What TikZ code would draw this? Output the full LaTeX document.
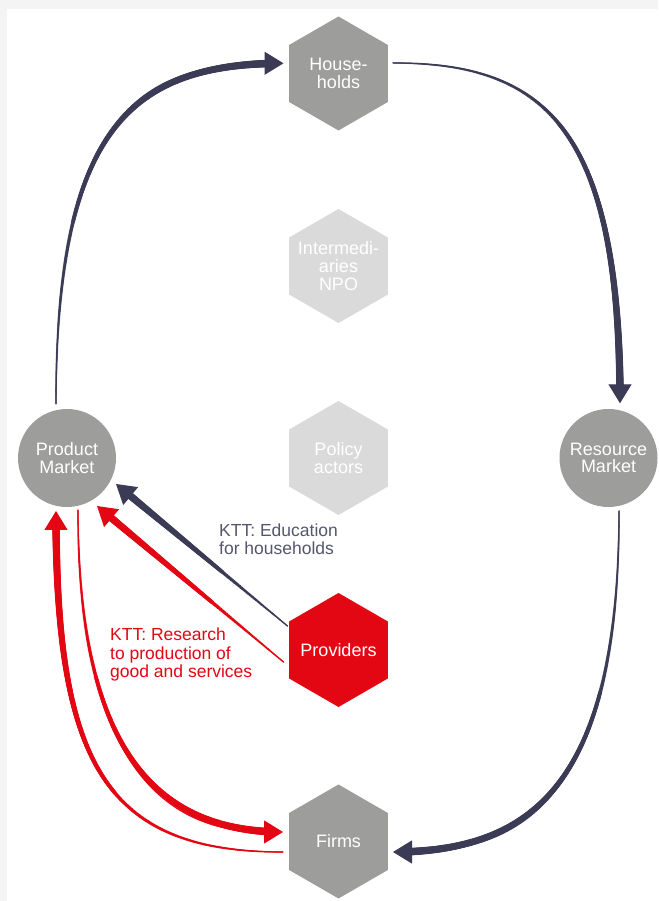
\documentclass[tikz,border=0pt]{standalone}
\usepackage{fontspec}
\setmainfont{Liberation Sans}
\usetikzlibrary{shapes.geometric,arrows.meta,decorations.markings}

\definecolor{navy}{HTML}{3C3B55}
\definecolor{ktred}{HTML}{E30613}
\definecolor{hexgray}{HTML}{9D9D9C}
\definecolor{hexlight}{HTML}{DADADA}
\definecolor{labelnavy}{HTML}{56566E}
\definecolor{bggray}{HTML}{F4F4F4}

\tikzset{
  hexa/.style={regular polygon, regular polygon sides=6, shape border rotate=30,
    minimum size=114pt, inner sep=0pt, outer sep=0pt},
  hextext/.style={text=white, align=center, inner sep=0pt,
    font=\fontsize{18}{18}\selectfont},
  market/.style={circle, fill=hexgray, minimum size=98pt, inner sep=0pt,
    text=white, align=center, font=\fontsize{18}{17.5}\selectfont},
  ktt/.style={anchor=north west, inner sep=0pt, align=left,
    font=\fontsize{17.5}{18.3}\selectfont},
  flow/.style={line width=1.2pt, -{Triangle[length=19pt,width=23pt]},
    postaction={decorate, decoration={markings,
      mark=between positions 0 and -18pt step 1pt with {
        \pgfmathsetmacro\taper{0.75+3.25*\pgfkeysvalueof{/pgf/decoration/mark info/distance from start}/\pgfdecoratedpathlength}
        \fill (0,0) circle (\taper pt);}}}}
}

\begin{document}
\begin{tikzpicture}[x=1pt,y=1pt]
        % page and panel
        \fill[bggray] (0,0) rectangle (658,901);
        \fill[white] (7,0) rectangle (658,892);
        \useasboundingbox (0,0) rectangle (658,901);

        % the actors in the middle column
        \node[hexa, fill=hexgray,  label={[hextext]center:House-\\holds}]          (hh)     at (338.5,827.5) {};
        \node[hexa, fill=hexlight, label={[hextext]center:Intermedi-\\aries\\NPO}] (inter)  at (338.5,635)   {};
        \node[hexa, fill=hexlight, label={[hextext]center:Policy\\actors}]         (policy) at (338.5,443)   {};
        \node[hexa, fill=ktred,    label={[hextext]center:Providers}]              (prov)   at (338.5,251)   {};
        \node[hexa, fill=hexgray,  label={[hextext]center:Firms}]                  (firms)  at (338.5,59.5)  {};

        % the two markets
        \node[market] (pm) at (67,443)    {Product\\Market};
        \node[market] (rm) at (608.5,443) {Resource\\Market};

        % the outer loop
        \draw[flow, navy] ([shift={(-11,54)}]pm.center)
              .. controls +(0,274) and +(-153,0) .. ([shift={(-55,10.2)}]hh.center);
        \draw[flow, navy] ([shift={(54.5,10.5)}]hh.center)
              .. controls +(153,0) and +(0,274) .. ([shift={(11.5,54.7)}]rm.center);
        \draw[flow, navy] ([shift={(10.5,-53)}]rm.center)
              .. controls +(0,-265) and +(145,0) .. ([shift={(54.5,-10.5)}]firms.center);

        % transfer from the providers
        \draw[flow, navy]  ([shift={(-51,24)}]prov.center) -- ([shift={(49,-26)}]pm.center);
        \draw[flow, ktred] ([shift={(-55,-12)}]prov.center) -- ([shift={(30,-48)}]pm.center);

        % product market and firms
        \draw[flow, ktred] ([shift={(11,-52)}]pm.center)
              .. controls +(0,-220) and +(-140,0) .. ([shift={(-55.5,9.5)}]firms.center);
        \draw[flow, ktred] ([shift={(-55.5,-10.5)}]firms.center)
              .. controls +(-180,0) and +(0,-250) .. ([shift={(-11,-53)}]pm.center);

        % labels of the transfers
        \node[ktt, text=labelnavy] (edu) at (219,377.8) {KTT: Education\\for households};
        \node[ktt, text=ktred]     (res) at (110,273.1) {KTT: Research\\to production of\\good and services};
\end{tikzpicture}
\end{document}
